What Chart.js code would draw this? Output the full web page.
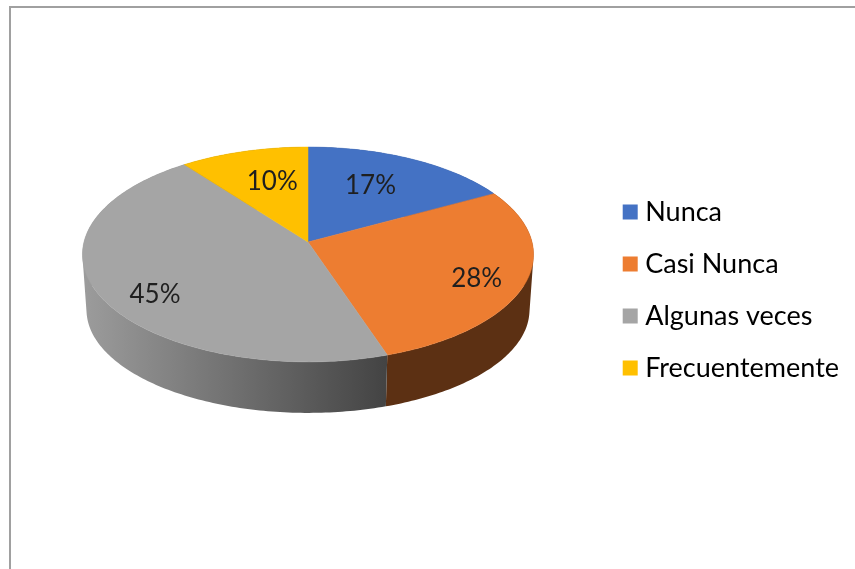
<!DOCTYPE html>
<html>
<head>
<meta charset="utf-8">
<style>
	html, body { margin: 0; padding: 0; background: #fff; }
	canvas { display: block; }
</style>
<script src="https://cdn.jsdelivr.net/npm/chart.js"></script>
</head>
<body>
<canvas id="chart" width="855" height="569"></canvas>
<script>
const categories = ["Nunca", "Casi Nunca", "Algunas veces", "Frecuentemente"];
const shares = [17, 27.9, 44.8, 10.3];
const sliceColors = ["#4472c4", "#ed7d31", "#a5a5a5", "#ffc000"];
const wallFrom = ["#2a4576", "#5f3214", "#9c9c9c", "#8f6c00"];
const wallTo = ["#2a4576", "#5c3013", "#434343", "#8f6c00"];

// where each percent label sits: radius along the slice, then a small nudge
const labelRadius = [0.58, 0.8, 0.75, 0.5];
const labelNudge = [[0, -6], [-4, 5], [2, 14], [-2, -13]];

const FAMILY = "Lato, 'Open Sans', sans-serif";
const TEXT_COLOR = "#1f1f1f";

// the pie is seen in perspective, so the centre is not the middle of the ellipse
const TILT = -0.116;
const topFace = { x: 308, y: 242, rx: 224, ry: 77.9 };
const baseFace = { x: 308, y: 298, rx: 220, ry: 67 };

function project(face, angle, r = 1) {
	const u = Math.cos(angle) * r;
	const v = Math.sin(angle) * r;
	const d = 1 + TILT * v;
	return { x: face.x + (face.rx * u) / d, y: (face.y + face.ry * v) / d };
}

function traceRim(ctx, face, from, to) {
	const steps = Math.max(2, Math.ceil(Math.abs(to - from) * 60));
	for (let i = 0; i <= steps; i++) {
		const p = project(face, from + ((to - from) * i) / steps);
		ctx.lineTo(p.x, p.y);
	}
}

function signedArea(pts) {
	let area = 0;
	pts.forEach((p, i) => {
		const q = pts[(i + 1) % pts.length];
		area += p.x * q.y - q.x * p.y;
	});
	return area;
}

// slices keep the angles the controller gave them, only the outline changes
Chart.ArcElement.prototype.draw = function (ctx) {
	const color = this.options.backgroundColor;
	ctx.save();
	ctx.beginPath();
	ctx.moveTo(topFace.x, topFace.y);
	traceRim(ctx, topFace, this.startAngle, this.endAngle);
	ctx.closePath();
	ctx.fillStyle = color;
	ctx.strokeStyle = color;
	ctx.lineWidth = 0.5;
	ctx.fill();
	ctx.stroke();
	ctx.restore();
};

const framePlugin = {
	id: "frame",
	beforeDraw(chart) {
		const ctx = chart.ctx;
		ctx.save();
		ctx.fillStyle = "#fff";
		ctx.fillRect(0, 0, chart.width, chart.height);
		ctx.strokeStyle = "#a0a0a0";
		ctx.lineWidth = 2;
		ctx.beginPath();
		ctx.moveTo(10, chart.height);
		ctx.lineTo(10, 7);
		ctx.lineTo(chart.width, 7);
		ctx.stroke();
		ctx.restore();
	}
};

const wallPlugin = {
	id: "walls",
	beforeDatasetsDraw(chart) {
		const ctx = chart.ctx;
		chart.getDatasetMeta(0).data.forEach((arc, i) => {
			const grad = ctx.createLinearGradient(83, 0, 388, 0);
			grad.addColorStop(0, wallFrom[i]);
			grad.addColorStop(1, wallTo[i]);
			ctx.save();
			ctx.fillStyle = grad;
			// narrow quads in one path, all wound the same way so overlaps do not cancel
			const span = arc.endAngle - arc.startAngle;
			const steps = Math.ceil(span * 60);
			ctx.beginPath();
			for (let s = 0; s < steps; s++) {
				const a = arc.startAngle + (span * s) / steps;
				const b = arc.startAngle + (span * (s + 1)) / steps;
				const pts = [project(topFace, a), project(topFace, b), project(baseFace, b), project(baseFace, a)];
				if (signedArea(pts) < 0) {
					pts.reverse();
				}
				ctx.moveTo(pts[0].x, pts[0].y);
				pts.slice(1).forEach((p) => ctx.lineTo(p.x, p.y));
				ctx.closePath();
			}
			ctx.fill();
			ctx.restore();
		});
	}
};

const labelPlugin = {
	id: "percentLabels",
	afterDatasetsDraw(chart) {
		const ctx = chart.ctx;
		ctx.save();
		ctx.font = "26px " + FAMILY;
		ctx.fillStyle = TEXT_COLOR;
		ctx.textAlign = "center";
		ctx.textBaseline = "middle";
		chart.getDatasetMeta(0).data.forEach((arc, i) => {
			const mid = (arc.startAngle + arc.endAngle) / 2;
			const p = project(topFace, mid, labelRadius[i]);
			const text = Math.round(shares[i]) + "%";
			ctx.fillText(text, p.x + labelNudge[i][0], p.y + labelNudge[i][1]);
		});
		ctx.restore();
	}
};

new Chart(document.getElementById("chart"), {
	type: "pie",
	data: {
		labels: categories,
		datasets: [{ data: shares, backgroundColor: sliceColors, borderWidth: 0 }]
	},
	options: {
		responsive: false,
		animation: false,
		layout: { padding: { top: 11, right: 6 } },
		plugins: {
			tooltip: { enabled: false },
			legend: {
				position: "right",
				labels: {
					font: { family: FAMILY, size: 27 },
					color: TEXT_COLOR,
					boxWidth: 3,
					boxHeight: 3,
					padding: 25,
					// thick stroke makes the 15px marker while keeping the text close to it
					generateLabels: () =>
						categories.map((name, i) => ({
							text: name,
							fillStyle: sliceColors[i],
							strokeStyle: sliceColors[i],
							lineWidth: 12,
							index: i
						}))
				}
			}
		}
	},
	plugins: [framePlugin, wallPlugin, labelPlugin]
});
</script>
</body>
</html>
